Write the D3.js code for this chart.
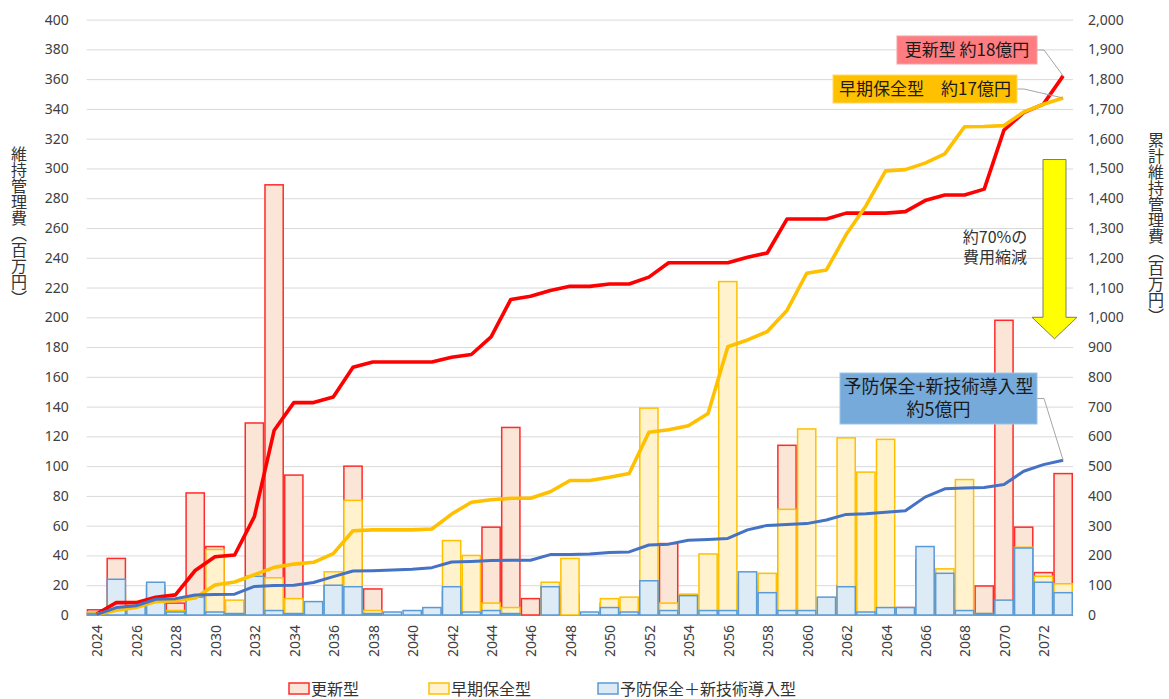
<!DOCTYPE html>
<html>
<head>
<meta charset="utf-8">
<script src="https://cdn.jsdelivr.net/npm/d3@7"></script>
<style>
body { margin: 0; background: #fff; }
svg text { font-family: "Noto Sans", "Noto Sans CJK JP", sans-serif; fill: #404040; }
.jp { font-family: "Noto Sans CJK JP", sans-serif; }
.grid line { stroke: #d9d9d9; }
</style>
</head>
<body>
<svg id="chart" width="1169" height="699"></svg>
<script>
var years = d3.range(2024, 2074);
var tickYears = d3.range(2024, 2073, 2);
var leftTicks = d3.range(0, 401, 20);
var rightTicks = d3.range(0, 2001, 100);

// 更新型 (百万円/年)
var renewal = [3.5, 38, 0, 18, 8, 82, 46, 6, 129, 289,
               94, 0, 19, 100, 17.5, 0, 0, 0, 16, 9,
               59, 126, 11, 19, 14, 0, 8, 0, 23, 48,
               0, 0, 0, 19, 14, 114, 0, 0, 20, 0,
               0, 5, 37, 19, 0, 19.5, 198, 59, 28.5, 95];
// 早期保全型
var early = [2, 14, 9, 20, 3, 9, 44, 10, 24, 25,
             11, 6, 29, 77, 3, 0, 0, 3, 50, 40,
             8, 5, 0, 22, 38, 0, 11, 12, 139, 8,
             14, 41, 224, 23, 28, 71, 125, 11, 119, 96,
             118, 4, 22, 31, 91, 1, 3, 45.5, 26, 21];
// 予防保全+新技術導入型
var prevent = [1, 24, 6, 22, 2, 12, 2, 1, 26, 3,
               1, 9, 20, 19, 1, 2, 3, 5, 19, 2,
               3, 1, 0, 19, 0, 2, 5, 2, 23, 3,
               13, 3, 3, 29, 15, 3, 3, 12, 19, 2,
               5, 5, 46, 28, 3, 1, 10, 45, 22, 15];

var seriesNames = ["更新型", "早期保全型", "予防保全＋新技術導入型"];
var seriesData = [renewal, early, prevent];
var fills = ["#fbe5d6", "#fff2cc", "#ddebf7"];
var strokes = ["#ff2b2b", "#ffc000", "#5b9bd5"];
var lineColors = ["#ff0000", "#ffc000", "#4472c4"];
var lineWidths = [3.6, 3.6, 3];

var svg = d3.select("#chart");
var plotLeft = 86.7, plotRight = 1073, plotTop = 19.6, plotBottom = 615;

var x = d3.scaleBand().domain(years).range([plotLeft, plotRight]).padding(0);
var y = d3.scaleLinear().domain([0, 400]).range([plotBottom, plotTop]);
var yR = d3.scaleLinear().domain([0, 2000]).range([plotBottom, plotTop]);

// grid + left axis
var gY = svg.append("g")
    .attr("class", "grid")
    .attr("transform", "translate(" + plotLeft + ",0)")
    .call(d3.axisLeft(y).tickValues(leftTicks).tickSize(-(plotRight - plotLeft)).tickPadding(18));
gY.select(".domain").remove();
gY.selectAll("text").style("font-size", "14px");
gY.selectAll(".tick").filter(function(d){ return d === 0; }).select("line").attr("stroke", "#bfbfbf");

// right axis
var gR = svg.append("g")
    .attr("transform", "translate(" + plotRight + ",0)")
    .call(d3.axisRight(yR).tickValues(rightTicks).tickSize(0).tickPadding(15).tickFormat(d3.format(",")));
gR.select(".domain").remove();
gR.selectAll("text").style("font-size", "14px");

// bottom axis
var gX = svg.append("g")
    .attr("transform", "translate(0," + plotBottom + ")")
    .call(d3.axisBottom(x).tickValues(tickYears).tickSize(0));
gX.select(".domain").attr("stroke", "#bfbfbf");
gX.selectAll("text")
    .style("font-size", "14px")
    .attr("text-anchor", "end")
    .attr("transform", "translate(1,10) rotate(-90)")
    .attr("x", 0).attr("y", 0).attr("dy", "0.35em");

// bars (overlaid, not stacked)
seriesData.forEach(function(vals, s) {
    svg.append("g").selectAll("rect")
        .data(vals)
        .join("rect")
        .attr("x", function(d, i){ return x(years[i]) + 0.75; })
        .attr("width", x.bandwidth() - 1.5)
        .attr("y", function(d){ return y(d); })
        .attr("height", function(d){ return plotBottom - y(d); })
        .attr("fill", fills[s])
        .attr("stroke", function(d){ return d > 0 ? strokes[s] : "none"; })
        .attr("stroke-width", 1.5);
});

// cumulative lines (right axis)
var cums = seriesData.map(function(vals){ return d3.cumsum(vals); });
var line = d3.line()
    .x(function(d, i){ return x(years[i]) + x.bandwidth() / 2; })
    .y(function(d){ return yR(d); });
cums.forEach(function(c, s) {
    svg.append("path")
        .datum(c)
        .attr("fill", "none")
        .attr("stroke", lineColors[s])
        .attr("stroke-width", lineWidths[s])
        .attr("stroke-linejoin", "round")
        .attr("d", line);
});

// callouts
var endX = x(years[years.length - 1]) + x.bandwidth() / 2;
var callouts = [
    {lines: ["更新型 約18億円"], x0: 897, x1: 1037, y0: 36, y1: 64, fill: "#ff7c80", stroke: "#f4a0a3", size: 17, s: 0},
    {lines: ["早期保全型　約17億円"], x0: 833, x1: 1017, y0: 75, y1: 103, fill: "#ffc000", stroke: "#ffd966", size: 17, s: 1},
    {lines: ["予防保全+新技術導入型", "約5億円"], x0: 840, x1: 1037, y0: 373, y1: 424, fill: "#75aadb", stroke: "#9dc3e6", size: 18, s: 2}
];
callouts.forEach(function(c) {
    var midY = (c.y0 + c.y1) / 2;
    var endVal = cums[c.s][cums[c.s].length - 1];
    svg.append("polyline")
        .attr("points", [[c.x1, midY], [c.x1 + 7, midY], [endX, yR(endVal)]].join(" "))
        .attr("fill", "none")
        .attr("stroke", "#a6a6a6")
        .attr("stroke-width", 1);
    svg.append("rect")
        .attr("x", c.x0).attr("y", c.y0)
        .attr("width", c.x1 - c.x0).attr("height", c.y1 - c.y0)
        .attr("fill", c.fill).attr("stroke", c.stroke);
    var n = c.lines.length;
    c.lines.forEach(function(t, k) {
        svg.append("text")
            .attr("class", "jp")
            .attr("x", (c.x0 + c.x1) / 2)
            .attr("y", midY + (k - (n - 1) / 2) * 23)
            .attr("dy", "0.35em")
            .attr("text-anchor", "middle")
            .style("font-size", c.size + "px")
            .style("fill", "#1a1a1a")
            .text(t);
    });
});

// reduction arrow
var ax = 1054.5;
svg.append("path")
    .attr("d", d3.line()([[ax - 11.5, yR(1530)], [ax + 11.5, yR(1530)], [ax + 11.5, yR(1000)],
                          [ax + 22.5, yR(1000)], [ax, yR(928)], [ax - 22.5, yR(1000)],
                          [ax - 11.5, yR(1000)]]) + "Z")
    .attr("fill", "#ffff00")
    .attr("stroke", "#7f7f5a")
    .attr("stroke-width", 1);
["約70%の", "費用縮減"].forEach(function(t, k) {
    svg.append("text")
        .attr("class", "jp")
        .attr("x", 995).attr("y", 237 + k * 20)
        .attr("dy", "0.35em")
        .attr("text-anchor", "middle")
        .style("font-size", "16px")
        .style("fill", "#333")
        .text(t);
});

// axis titles (vertical)
svg.append("text")
    .attr("class", "jp")
    .attr("x", 19).attr("y", 226)
    .attr("text-anchor", "middle")
    .style("writing-mode", "vertical-rl")
    .style("font-size", "16px")
    .style("fill", "#333")
    .text("維持管理費（百万円）");
svg.append("text")
    .attr("class", "jp")
    .attr("x", 1156).attr("y", 228)
    .attr("text-anchor", "middle")
    .style("writing-mode", "vertical-rl")
    .style("font-size", "16px")
    .style("fill", "#333")
    .text("累計維持管理費（百万円）");

// legend
var legX = [289, 429, 598];
seriesNames.forEach(function(name, s) {
    svg.append("rect")
        .attr("x", legX[s]).attr("y", 683)
        .attr("width", 20).attr("height", 11)
        .attr("fill", fills[s]).attr("stroke", strokes[s]).attr("stroke-width", 1.5);
    svg.append("text")
        .attr("class", "jp")
        .attr("x", legX[s] + 22).attr("y", 689)
        .attr("dy", "0.35em")
        .style("font-size", "16px")
        .style("fill", "#333")
        .text(name);
});
</script>
</body>
</html>
